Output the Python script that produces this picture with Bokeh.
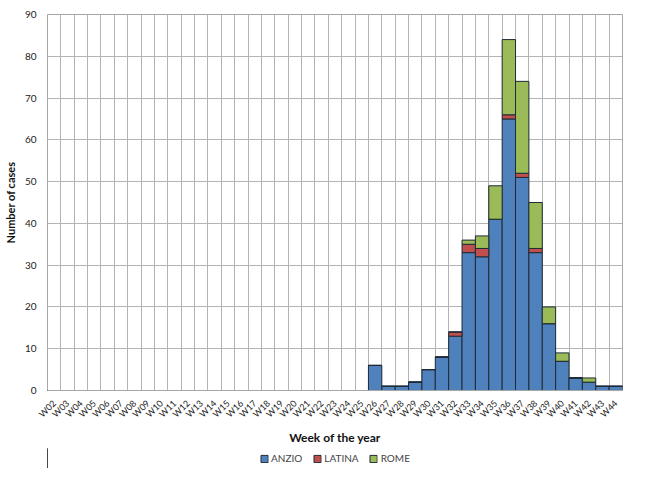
import math
from bokeh.plotting import figure
from bokeh.layouts import column
from bokeh.models import ColumnDataSource, FixedTicker, Legend, LegendItem, Range1d
from bokeh.embed import file_html
from bokeh.resources import INLINE

weeks = ["W%02d" % w for w in range(2, 45)]
anzio = [0]*24 + [6, 1, 1, 2, 5, 8, 13, 33, 32, 41, 65, 51, 33, 16, 7, 3, 2, 1, 1]
latina = [0]*24 + [0, 0, 0, 0, 0, 0, 1, 2, 2, 0, 1, 1, 1, 0, 0, 0, 0, 0, 0]
rome = [0]*24 + [0, 0, 0, 0, 0, 0, 0, 1, 3, 8, 18, 22, 11, 4, 2, 0, 1, 0, 0]
series = ["ANZIO", "LATINA", "ROME"]
colors = ["#4F81BD", "#C0504D", "#9BBB59"]

n = len(weeks)
xs = [i + 0.5 for i in range(n)]
src = ColumnDataSource(dict(x=xs, ANZIO=anzio, LATINA=latina, ROME=rome))

FONT = "Lato"
p = figure(width=634, height=448, output_backend="svg", toolbar_location=None,
           x_range=Range1d(0, n), y_range=Range1d(0, 90),
           min_border_left=44, min_border_right=12, min_border_top=14, min_border_bottom=56)

r = p.vbar_stack(series, x="x", width=1.0, source=src, color=colors,
                 line_color="#1F2A36", line_width=1)

p.xaxis.ticker = FixedTicker(ticks=xs)
p.xaxis.major_label_overrides = {x: w for x, w in zip(xs, weeks)}
p.xaxis.major_label_orientation = math.pi / 4
p.xaxis.major_tick_line_color = None
p.xaxis.minor_tick_line_color = None
p.xaxis.axis_line_color = "#A6A6A6"
p.xaxis.axis_label = "Week of the year"
p.xaxis.axis_label_standoff = 4
p.xgrid.ticker = FixedTicker(ticks=list(range(n + 1)))
p.xgrid.grid_line_color = "#B3B3B3"

p.yaxis.ticker = FixedTicker(ticks=list(range(0, 91, 10)))
p.yaxis.axis_line_color = None
p.yaxis.major_tick_line_color = None
p.yaxis.minor_tick_line_color = None
p.yaxis.axis_label = "Number of cases"
p.ygrid.grid_line_color = "#B3B3B3"

for ax in (p.xaxis, p.yaxis):
    ax.major_label_text_font = FONT
    ax.major_label_text_font_size = "10px"
    ax.major_label_text_color = "#222222"
    ax.axis_label_text_font = FONT
    ax.axis_label_text_font_style = "bold"
    ax.axis_label_text_color = "#111111"
p.xaxis.axis_label_text_font_size = "12px"
p.yaxis.axis_label_text_font_size = "11px"
p.xaxis.major_label_text_font_size = "9px"

p.outline_line_color = "#A6A6A6"

# Legend strip below the chart (legend-only swatch renderers, placed outside the visible range)
q = figure(width=634, height=20, output_backend="svg", toolbar_location=None,
           x_range=Range1d(0, 1), y_range=Range1d(0, 1),
           min_border_left=0, min_border_right=0, min_border_top=0, min_border_bottom=0)
q.axis.visible = False
q.grid.grid_line_color = None
q.outline_line_color = None
swatches = [q.vbar(x=[-5], top=[1], width=1.0, fill_color=c,
                   line_color="#1F2A36", line_width=1) for c in colors]
legend = Legend(items=[LegendItem(label=s, renderers=[rr]) for s, rr in zip(series, swatches)],
                orientation="horizontal", location="center",
                label_text_font=FONT, label_text_font_size="10px",
                glyph_width=9, glyph_height=9, label_height=12, label_standoff=3, spacing=10,
                border_line_color=None, background_fill_alpha=0, padding=2, margin=0)
q.add_layout(legend)

layout = column(p, q, spacing=0)
open("out.html", "w").write(file_html(layout, INLINE))
